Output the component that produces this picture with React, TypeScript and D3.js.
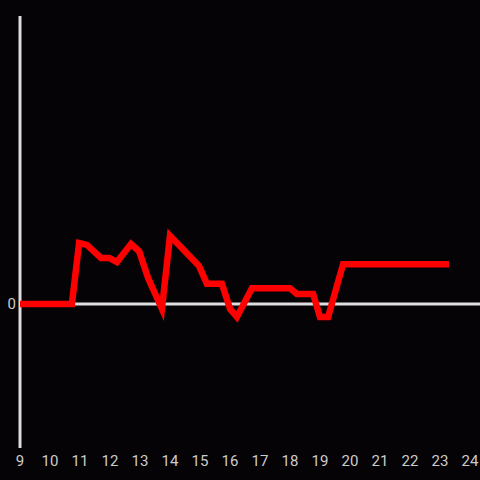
import React from "react";
import * as d3 from "d3";

const hours = [9, 10.73, 10.97, 11.23, 11.7, 11.97, 12.23, 12.7, 12.97, 13.27, 13.73, 14.0, 14.97, 15.23, 15.73, 16.0, 16.23, 16.73, 18.0, 18.23, 18.77, 19.0, 19.27, 19.77, 23.3];
const values = [0, 0, 1.27, 1.23, 0.96, 0.96, 0.875, 1.25, 1.1, 0.54, -0.1, 1.42, 0.79, 0.42, 0.42, -0.1, -0.27, 0.33, 0.33, 0.21, 0.21, -0.27, -0.27, 0.83, 0.83];
const xTicks = [9, 10, 11, 12, 13, 14, 15, 16, 17, 18, 19, 20, 21, 22, 23, 24];
const yTicks = [0];

export default function App() {
  const W = 480, H = 480;
  const x = d3.scaleLinear().domain([9, 24]).range([20, 470]);
  const y = d3.scaleLinear().domain([-3, 6]).range([448, 16]);
  const line = d3.line<number>().x((_, i) => x(hours[i])).y((d) => y(d));
  const path = line(values) || "";
  const font = "Roboto, Liberation Sans, Arial, sans-serif";
  return (
    <div style={{ position: "fixed", left: 0, top: 0 }}>
      <svg width={W} height={H} style={{ display: "block", background: "#050306" }}>
        <rect x={0} y={0} width={W} height={H} fill="#050306" />
        <line x1={20} x2={20} y1={y(6)} y2={y(-3)} stroke="#dddddd" strokeWidth={3} />
        {yTicks.map((t) => (
          <g key={t}>
            <line x1={20} x2={480} y1={y(t)} y2={y(t)} stroke="#dddddd" strokeWidth={3} />
            <text x={16} y={y(t)} dy="0.36em" textAnchor="end" fill="#cccccc" fontSize={15} fontFamily={font}>{t}</text>
          </g>
        ))}
        {xTicks.map((t) => (
          <text key={t} x={x(t)} y={466} textAnchor="middle" fill="#cccccc" fontSize={15} fontFamily={font}>{t}</text>
        ))}
        <path d={path} fill="none" stroke="#ff0000" strokeWidth={6.5} strokeLinejoin="miter" strokeLinecap="butt" />
      </svg>
    </div>
  );
}
